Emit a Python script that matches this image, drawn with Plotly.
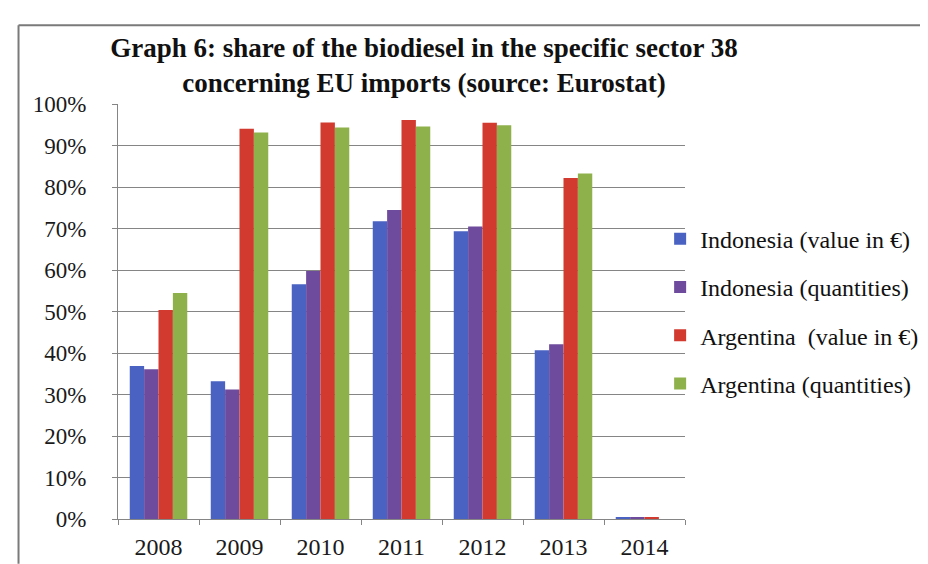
import plotly.graph_objects as go

years = ["2008", "2009", "2010", "2011", "2012", "2013", "2014"]
indonesia_value = [0.369, 0.332, 0.566, 0.718, 0.694, 0.407, 0.003]
indonesia_qty = [0.361, 0.312, 0.598, 0.745, 0.705, 0.421, 0.003]
argentina_value = [0.504, 0.941, 0.956, 0.962, 0.955, 0.822, 0.003]
argentina_qty = [0.545, 0.932, 0.944, 0.946, 0.949, 0.833, 0.0]

series = [
    ("Indonesia (value in €)", indonesia_value, "#4A63C2"),
    ("Indonesia (quantities)", indonesia_qty, "#6E4B9C"),
    ("Argentina  (value in €)", argentina_value, "#D23A2F"),
    ("Argentina (quantities)", argentina_qty, "#8FB14C"),
]

fig = go.Figure()
for i, (name, vals, col) in enumerate(series):
    fig.add_trace(go.Bar(x=years, y=vals, name=name, marker_color=col,
                         marker_line_width=0, legendgroup=str(i)))

serif = "Liberation Serif, Times New Roman, serif"

L, R, T, B = 110, 248, 96, 41
W, H = 928, 564
pw = W - L - R
ph = H - T - B

def px_x(p):
    return (p - L) / pw

def px_y(p):
    return (H - B - p) / ph

fig.update_layout(
    width=W, height=H,
    margin=dict(l=L, r=R, t=T, b=B),
    paper_bgcolor="white", plot_bgcolor="white",
    barmode="group", bargap=0.29, bargroupgap=0,
    font=dict(family=serif, color="#1a1a1a"),
    title=dict(
        text="<b>Graph 6: share of the biodiesel in the specific sector 38<br>concerning EU imports (source: Eurostat)</b>",
        font=dict(family=serif, size=27, color="#111"),
        x=416 / W, xanchor="center", xref="container",
        y=1 - 49 / H, yanchor="top", yref="container",
    ),
    legend=dict(
        x=px_x(655), xanchor="left", y=px_y(212), yanchor="top",
        font=dict(family=serif, size=24, color="#111"),
        traceorder="grouped", tracegroupgap=14,
        bgcolor="rgba(0,0,0,0)",
    ),
    showlegend=True,
    shapes=[
        dict(type="line", xref="paper", yref="paper",
             x0=px_x(10), x1=px_x(W + 5), y0=px_y(15), y1=px_y(15),
             line=dict(color="#7a7a7a", width=2)),
        dict(type="line", xref="paper", yref="paper",
             x0=px_x(10), x1=px_x(10), y0=px_y(15), y1=px_y(H + 5),
             line=dict(color="#7a7a7a", width=2)),
    ],
)

fig.update_yaxes(
    range=[0, 1.0005], tickvals=[i / 10 for i in range(11)], tickformat=".0%",
    showgrid=True, gridcolor="#858585", gridwidth=1,
    showline=True, linecolor="#858585", linewidth=1,
    ticks="outside", ticklen=5, tickcolor="#858585",
    tickfont=dict(family=serif, size=23, color="#1a1a1a"),
    ticklabelstandoff=21, zeroline=False,
)
fig.update_xaxes(
    showline=True, linecolor="#858585", linewidth=1,
    ticks="outside", ticklen=5, tickcolor="#858585", tickson="boundaries",
    tickfont=dict(family=serif, size=24, color="#1a1a1a"),
    ticklabelstandoff=6,
    showgrid=False,
)

fig.write_html("out.html")
